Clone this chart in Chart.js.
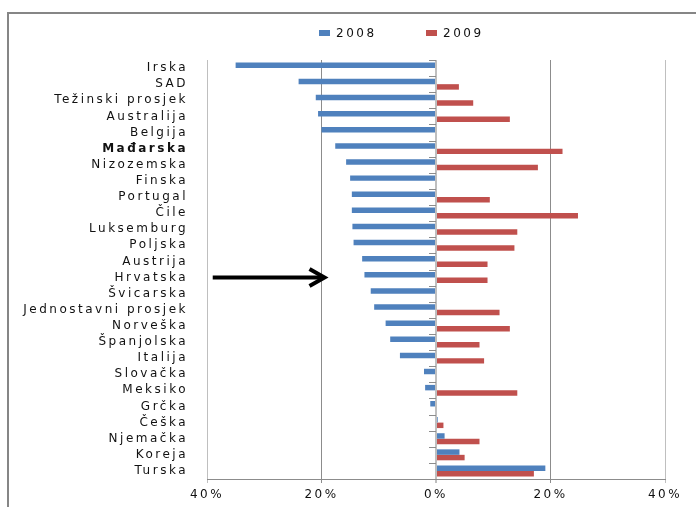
<!DOCTYPE html>
<html>
<head>
<meta charset="utf-8">
<script src="https://cdn.jsdelivr.net/npm/chart.js"></script>
<style>
  body { margin: 0; background: #fff; }
  #wrap { position: relative; width: 696px; height: 507px; overflow: hidden; }
  #frame { position: absolute; left: 7px; top: 12px; width: 800px; height: 600px; border: 2px solid #868686; }
  canvas { position: absolute; left: 0; top: 0; }
  .legend { position: absolute; top: 25px; font: 12px 'DejaVu Sans'; line-height: 16px; letter-spacing: 2.5px; color: #111; white-space: nowrap; }
  .key { display: inline-block; width: 11px; height: 6px; margin-right: 6px; vertical-align: middle; position: relative; top: -1px; }
</style>
</head>
<body>
<div id="wrap">
  <div id="frame"></div>
  <canvas id="chart" width="696" height="507"></canvas>
  <div class="legend" style="left:319px"><span class="key" style="background:#4F81BD"></span>2008</div>
  <div class="legend" style="left:426px"><span class="key" style="background:#C0504D"></span>2009</div>
</div>
<script>
    // categories top to bottom
    const categories = ['Irska', 'SAD', 'Težinski prosjek', 'Australija', 'Belgija', 'Mađarska', 'Nizozemska',
        'Finska', 'Portugal', 'Čile', 'Luksemburg', 'Poljska', 'Austrija', 'Hrvatska', 'Švicarska',
        'Jednostavni prosjek', 'Norveška', 'Španjolska', 'Italija', 'Slovačka', 'Meksiko', 'Grčka',
        'Češka', 'Njemačka', 'Koreja', 'Turska'];

    // values in %
    const values2008 = [-35, -24, -21, -20.6, -20, -17.6, -15.7, -15, -14.7, -14.7, -14.6, -14.4, -12.9,
        -12.5, -11.4, -10.8, -8.8, -8, -6.3, -2.1, -1.9, -1, 0.3, 1.5, 4.1, 19.1];
    const values2009 = [null, 4, 6.5, 12.9, null, 22.1, 17.8, null, 9.4, 24.8, 14.2, 13.7, 9,
        9, null, 11.1, 12.9, 7.6, 8.4, null, 14.2, null, 1.3, 7.6, 5, 17.1];

    const xTicks = [-40, -20, 0, 20, 40];

    // arrow pointing at Hrvatska
    const arrowCategory = 'Hrvatska';
    const arrowFrom = -39;
    const arrowTo = -19.3;

    const fontFamily = "'DejaVu Sans', sans-serif";

    const extras = {
        id: 'extras',
        beforeDraw(chart) {
            chart.ctx.letterSpacing = '2.5px';
        },
        beforeDatasetsDraw(chart) {
            const { ctx, scales: { x, y } } = chart;
            const x0 = x.getPixelForValue(0);
            ctx.save();
            ctx.strokeStyle = '#8C8C8C';
            ctx.lineWidth = 1;
            for (let i = 0; i <= categories.length; i++) {
                const py = Math.round(y.getPixelForValue(i - 0.5)) + 0.5;
                ctx.beginPath();
                ctx.moveTo(x0 - 7, py);
                ctx.lineTo(x0, py);
                ctx.stroke();
            }
            ctx.restore();
        },
        afterDraw(chart) {
            const { ctx, scales: { x, y } } = chart;
            const ya = y.getPixelForValue(categories.indexOf(arrowCategory));
            const xs = x.getPixelForValue(arrowFrom);
            const xe = x.getPixelForValue(arrowTo);
            ctx.save();
            ctx.strokeStyle = '#000';
            ctx.lineWidth = 4;
            ctx.beginPath();
            ctx.moveTo(xs, ya);
            ctx.lineTo(xe - 2, ya);
            ctx.stroke();
            ctx.lineJoin = 'miter';
            ctx.beginPath();
            ctx.moveTo(xe - 16, ya - 8.5);
            ctx.lineTo(xe - 1, ya);
            ctx.lineTo(xe - 16, ya + 8.5);
            ctx.stroke();
            ctx.restore();
        }
    };

    const config = {
        type: 'bar',
        data: {
            labels: categories,
            datasets: [{
                label: '2008',
                data: values2008,
                backgroundColor: '#4F81BD',
                categoryPercentage: 0.68,
                barPercentage: 1
            },
            {
                label: '2009',
                data: values2009,
                backgroundColor: '#C0504D',
                categoryPercentage: 0.68,
                barPercentage: 1
            }]
        },
        options: {
            indexAxis: 'y',
            responsive: false,
            animation: false,
            layout: { padding: { top: 60, right: 31, bottom: 0, left: 0 } },
            scales: {
                x: {
                    min: -40,
                    max: 40,
                    afterBuildTicks: (scale) => { scale.ticks = xTicks.map(v => ({ value: v })); },
                    afterFit: (scale) => { scale.height = 28; },
                    grid: {
                        color: (c) => (c.tick && (c.tick.value === 0 || Math.abs(c.tick.value) === 40)) ? '#BFBFBF' : '#8C8C8C',
                        lineWidth: (c) => (c.tick && c.tick.value === 0) ? 2 : 1,
                        tickLength: 4
                    },
                    border: { display: true, color: '#8C8C8C' },
                    ticks: {
                        autoSkip: false,
                        maxRotation: 0,
                        padding: 5,
                        color: '#111',
                        font: { family: fontFamily, size: 12 },
                        callback: (v) => Math.abs(v) + '%'
                    }
                },
                y: {
                    afterFit: (scale) => { scale.width = 207; },
                    grid: { display: false, drawTicks: false },
                    border: { display: false },
                    ticks: {
                        autoSkip: false,
                        padding: 19,
                        color: '#111',
                        font: (c) => ({
                            family: fontFamily,
                            size: 12,
                            weight: (c.tick && c.tick.label === 'Mađarska') ? 'bold' : 'normal'
                        })
                    }
                }
            },
            plugins: {
                legend: { display: false },
                tooltip: { enabled: false }
            }
        },
        plugins: [extras]
    };

    const barChart = new Chart(document.getElementById('chart'), config);
</script>
</body>
</html>
